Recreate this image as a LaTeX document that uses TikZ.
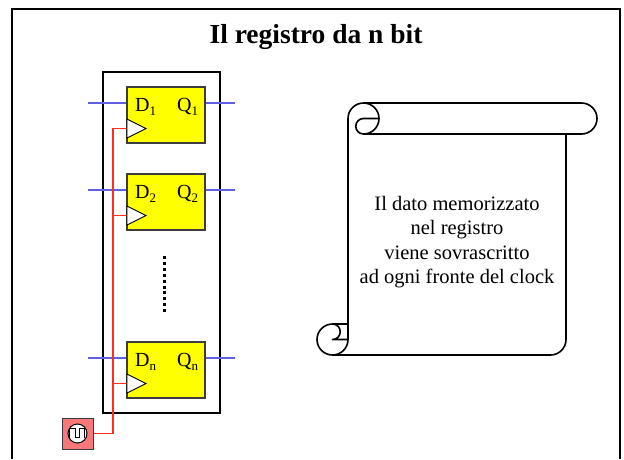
\documentclass[tikz,border=0pt]{standalone}
\usepackage{fontspec}
\setmainfont{Liberation Serif}
\usetikzlibrary{positioning}
\definecolor{ffGiallo}{RGB}{255,255,0}
\definecolor{ffBordo}{RGB}{60,60,60}
\definecolor{filoDati}{RGB}{95,95,225}
\definecolor{filoClock}{RGB}{255,45,25}
\definecolor{genFondo}{RGB}{247,120,120}
\newcommand{\ffpin}[2]{#1\raisebox{-4.5pt}{\fontsize{13}{13}\selectfont #2}}

\begin{document}
\begin{tikzpicture}[
  x=1pt, y=-1pt, every node/.style={font=\fontsize{20}{22}\selectfont},
  ff/.style={draw=ffBordo, line width=1.1pt, fill=ffGiallo, minimum width=78pt,
             minimum height=56pt, inner sep=0pt},
  pin/.style={anchor=base west, inner sep=0pt},
  dline/.style={filoDati, line width=1.4pt},
  clkwire/.style={draw=filoClock, line width=1.2pt},
  clktri/.style={draw=black, line width=0.9pt, fill=white},
  scroll/.style={draw=black, line width=1.6pt, line join=round}
]
\useasboundingbox (0,0) rectangle (624,459);

% cornice della diapositiva
\draw[line width=2pt] (12,459) -- (12,9) -- (620,9) -- (620,459);
\node[font=\fontsize{27.5}{30}\selectfont\bfseries, anchor=base] (titolo) at (316,43)
     {Il registro da n bit};

% registro: contenitore e flip-flop
\node[draw, line width=2pt, minimum width=117pt, minimum height=341pt, inner sep=0pt]
     (reg) at (161.4,242.5) {};
\node[ff] (ff1) at (166,115) {};
\node[ff] (ff2) at (166,202) {};
\node[ff] (ffn) at (166,370) {};

\node[pin] (d1) at (135,111) {\ffpin{D}{1}};
\node[pin] (q1) at (177,111) {\ffpin{Q}{1}};
\node[pin] (d2) at (135,198) {\ffpin{D}{2}};
\node[pin] (q2) at (177,198) {\ffpin{Q}{2}};
\node[pin] (dn) at (135,366) {\ffpin{D}{n}};
\node[pin] (qn) at (177,366) {\ffpin{Q}{n}};

% ingressi e uscite dati
\coordinate (in1) at (88,103);  \coordinate (out1) at (235,103);
\coordinate (in2) at (88,190);  \coordinate (out2) at (235,190);
\coordinate (inn) at (88,358);  \coordinate (outn) at (235,358);
\draw[dline] (in1) -- (in1 -| ff1.west);  \draw[dline] (out1 -| ff1.east) -- (out1);
\draw[dline] (in2) -- (in2 -| ff2.west);  \draw[dline] (out2 -| ff2.east) -- (out2);
\draw[dline] (inn) -- (inn -| ffn.west);  \draw[dline] (outn -| ffn.east) -- (outn);

% puntini tra il secondo e l'ultimo
\draw[line width=3pt, dash pattern=on 3pt off 2.9pt] (164,256) -- (164,313);

% generatore di clock
\node[draw=ffBordo, line width=1pt, fill=genFondo, minimum size=31pt, inner sep=0pt]
     (gen) at (77.5,433.5) {};
\node[draw, line width=1pt, fill=white, circle, minimum size=19pt, inner sep=0pt]
     (onda) at (gen.center) {};
\draw[line width=1pt] (69.5,437.5) -- (69.5,428) -- (75.5,428) -- (75.5,437.5)
     -- (79,437.5) -- (79,428) -- (84.5,428) -- (84.5,437.5);

% ingressi di clock
\coordinate (ck1) at (127,128.5);
\coordinate (ck2) at (127,215.5);
\coordinate (ckn) at (127,383.5);
\draw[clkwire] (gen.east) -| ([xshift=-14pt]ck1) -- (ck1);
\draw[clkwire] ([xshift=-14pt]ck2) -- (ck2);
\draw[clkwire] ([xshift=-14pt]ckn) -- (ckn);
\draw[clktri] (ck1) ++(0,-9.5) -- ++(19,9.5) -- ++(-19,9.5) -- cycle;
\draw[clktri] (ck2) ++(0,-9.5) -- ++(19,9.5) -- ++(-19,9.5) -- cycle;
\draw[clktri] (ckn) ++(0,-9.5) -- ++(19,9.5) -- ++(-19,9.5) -- cycle;

% pergamena
\draw[scroll, fill=white] (348,324) -- (348,118.5)
     arc[start angle=180, end angle=270, radius=15.5] -- (581.5,103)
     arc[start angle=270, end angle=450, radius=15.5] -- (566,134) -- (566,339.5)
     arc[start angle=0, end angle=90, radius=15.5] -- (332.5,355)
     arc[start angle=90, end angle=270, radius=15.5] -- cycle;
\draw[scroll] (363.5,103) arc[start angle=270, end angle=450, radius=15.5]
     arc[start angle=90, end angle=270, radius=7.75] -- (379,118.5);
\draw[scroll] (566,134) -- (363.5,134);
\draw[scroll] (332.5,324) arc[start angle=270, end angle=450, radius=7.75] -- (348,339.5);
\draw[scroll] (332.5,355) arc[start angle=90, end angle=0, radius=15.5] -- (348,324);

\node[align=center, font=\fontsize{20.5}{24.5}\selectfont] (nota) at (457,242)
     {Il dato memorizzato\\nel registro\\viene sovrascritto\\ad ogni fronte del clock};
\end{tikzpicture}
\end{document}
